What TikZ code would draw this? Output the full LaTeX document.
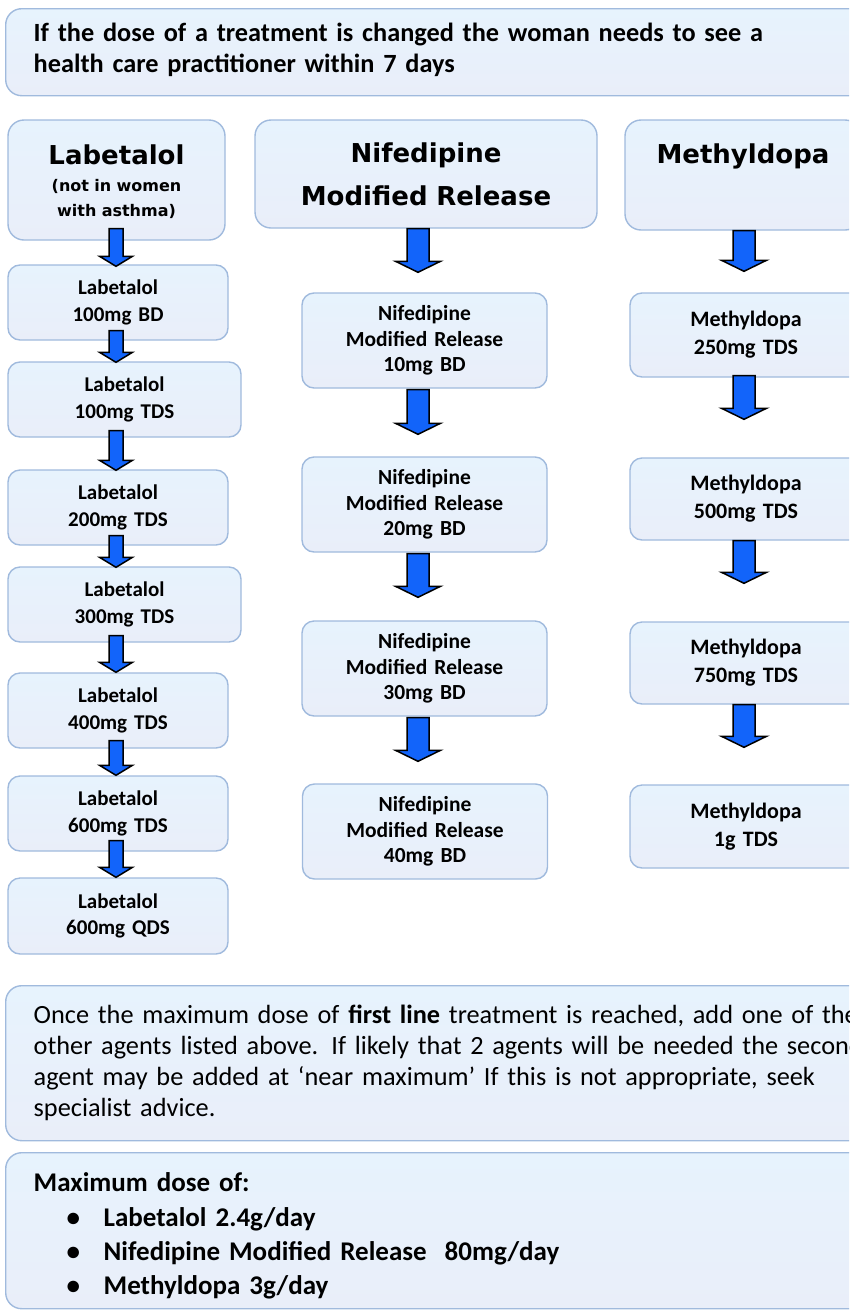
\documentclass[tikz,border=0pt]{standalone}
\usepackage{fontspec}
\setmainfont{Carlito}
\newfontfamily\headfont{DejaVu Sans}
\usetikzlibrary{calc}

\definecolor{boxtop}{RGB}{231,243,253}
\definecolor{boxbot}{RGB}{233,238,249}
\definecolor{boxline}{RGB}{160,186,221}
\definecolor{arrowblue}{RGB}{18,100,250}

\tikzset{
  panel/.style={draw=boxline, line width=1.4pt, top color=boxtop, bottom color=boxbot, inner sep=0pt},
  notebox/.style={panel, rounded corners=16pt, anchor=north west, align=left, text width=1000pt, inner xsep=28pt},
  headbox/.style={panel, rounded corners=16pt, align=center, text width=200pt, font=\headfont\bfseries\fontsize{26}{43}\selectfont},
  dosebox/.style={panel, rounded corners=12pt, align=center, text width=200pt, font=\bfseries\fontsize{21}{26.5}\selectfont},
  arrowpaint/.style={fill=arrowblue, draw=black, line width=1.5pt, line join=miter},
  smallarrow/.code={\def\shafthw{7pt}\def\headhw{16.5pt}\def\headlen{10pt}},
  bigarrow/.code={\def\shafthw{11pt}\def\headhw{22.5pt}\def\headlen{11pt}},
}

% block arrow: style, axis, from, to, start shift, end shift
\newcommand{\flowarrow}[6]{%
  \filldraw[arrowpaint,#1] let \p1=(#2), \p2=($(#3.south)+(0,#5)$), \p3=($(#4.north)+(0,#6)$) in
    ({\x1-\shafthw},\y2) -- ({\x1+\shafthw},\y2) -- ({\x1+\shafthw},{\y3+\headlen})
    -- ({\x1+\headhw},{\y3+\headlen}) -- (\x1,\y3) -- ({\x1-\headhw},{\y3+\headlen})
    -- ({\x1-\shafthw},{\y3+\headlen}) -- cycle;
}

\begin{document}
\begin{tikzpicture}[x=1pt, y=-1pt]
  \useasboundingbox (0,0) rectangle (849,1312);
  \clip (0,0) rectangle (849,1312);

  % Note
  \node[notebox, minimum height=87pt, font=\bfseries\fontsize{26.3}{31}\selectfont] (note) at (5,8)
    {If the dose of a treatment is changed the woman needs to see a\\health care practitioner within 7 days\rule[-9pt]{0pt}{9pt}};

  % Column headers
  \node[headbox, minimum width=217pt, minimum height=120pt, font=\headfont\bfseries\fontsize{16}{25}\selectfont] (lab) at (116.5,180)
    {\rule{0pt}{23pt}{\fontsize{26}{28}\selectfont Labetalol}\\[2pt](not in women\\with asthma)};
  \node[headbox, text width=320pt, minimum width=342pt, minimum height=108pt] (nif) at (426,174)
    {Nifedipine\\Modified Release};
  \node[headbox, minimum width=236pt, minimum height=110pt] (met) at (743,175)
    {Methyldopa\\\mbox{}};

  % Axes of the arrows
  \coordinate (labaxis) at (116,0);
  \coordinate (nifaxis) at (418,0);
  \coordinate (metaxis) at (744,0);

  % Labetalol
  \node[dosebox, minimum width=220pt, minimum height=75pt] (l1) at (118,302.5) {Labetalol\\100mg BD};
  \node[dosebox, minimum width=233pt, minimum height=75pt] (l2) at (124.5,399.5) {Labetalol\\100mg TDS};
  \node[dosebox, minimum width=220pt, minimum height=75pt] (l3) at (118,507.5) {Labetalol\\200mg TDS};
  \node[dosebox, minimum width=233pt, minimum height=75pt] (l4) at (124.5,604.5) {Labetalol\\300mg TDS};
  \node[dosebox, minimum width=220pt, minimum height=75pt] (l5) at (118,710.5) {Labetalol\\400mg TDS};
  \node[dosebox, minimum width=220pt, minimum height=75pt] (l6) at (118,813.5) {Labetalol\\600mg TDS};
  \node[dosebox, minimum width=220pt, minimum height=76pt] (l7) at (118,916) {Labetalol\\600mg QDS};

  % Nifedipine
  \node[dosebox, minimum width=245pt, minimum height=95pt, font=\bfseries\fontsize{21.5}{25.5}\selectfont] (n1) at (424.5,340.5) {Nifedipine\\Modified Release\\10mg BD};
  \node[dosebox, minimum width=245pt, minimum height=95pt, font=\bfseries\fontsize{21.5}{25.5}\selectfont] (n2) at (424.5,504.5) {Nifedipine\\Modified Release\\20mg BD};
  \node[dosebox, minimum width=245pt, minimum height=95pt, font=\bfseries\fontsize{21.5}{25.5}\selectfont] (n3) at (424.5,668.5) {Nifedipine\\Modified Release\\30mg BD};
  \node[dosebox, minimum width=245pt, minimum height=95pt, font=\bfseries\fontsize{21.5}{25.5}\selectfont] (n4) at (425,831.5) {Nifedipine\\Modified Release\\40mg BD};

  % Methyldopa
  \node[dosebox, minimum width=232pt, minimum height=84pt, font=\bfseries\fontsize{22}{28}\selectfont] (m1) at (746,335) {Methyldopa\\250mg TDS};
  \node[dosebox, minimum width=232pt, minimum height=82pt, font=\bfseries\fontsize{22}{28}\selectfont] (m2) at (746,499) {Methyldopa\\500mg TDS};
  \node[dosebox, minimum width=232pt, minimum height=82pt, font=\bfseries\fontsize{22}{28}\selectfont] (m3) at (746,663) {Methyldopa\\750mg TDS};
  \node[dosebox, minimum width=232pt, minimum height=83pt, font=\bfseries\fontsize{22}{28}\selectfont] (m4) at (746,826.5) {Methyldopa\\1g TDS};

  % Arrows
  \flowarrow{smallarrow}{labaxis}{lab}{l1}{-12}{2}
  \flowarrow{smallarrow}{labaxis}{l1}{l2}{-10}{1}
  \flowarrow{smallarrow}{labaxis}{l2}{l3}{-7}{1}
  \flowarrow{smallarrow}{labaxis}{l3}{l4}{-10}{1}
  \flowarrow{smallarrow}{labaxis}{l4}{l5}{-7}{0}
  \flowarrow{smallarrow}{labaxis}{l5}{l6}{-8}{0}
  \flowarrow{smallarrow}{labaxis}{l6}{l7}{-11}{0}

  \flowarrow{bigarrow}{nifaxis}{nif}{n1}{0}{-20}
  \flowarrow{bigarrow}{nifaxis}{n1}{n2}{1}{-22}
  \flowarrow{bigarrow}{nifaxis}{n2}{n3}{1}{-23}
  \flowarrow{bigarrow}{nifaxis}{n3}{n4}{1}{-22}

  \flowarrow{bigarrow}{metaxis}{met}{m1}{0}{-21}
  \flowarrow{bigarrow}{metaxis}{m1}{m2}{-2}{-38}
  \flowarrow{bigarrow}{metaxis}{m2}{m3}{0}{-38}
  \flowarrow{bigarrow}{metaxis}{m3}{m4}{0}{-37}

  % Advice
  \node[notebox, minimum height=155pt, font=\fontsize{26.3}{31}\selectfont] (advice) at (5,985)
    {Once the maximum dose of \textbf{first line} treatment is reached, add one of the\\
     other agents listed above. If likely that 2 agents will be needed the second\\
     agent may be added at ‘near maximum’ If this is not appropriate, seek\\
     specialist advice.};

  % Maximum doses
  \node[notebox, minimum height=156pt, font=\bfseries\fontsize{27}{34}\selectfont] (maxdose) at (5,1152)
    {\rule{0pt}{30pt}Maximum dose of:\\[1pt]
     \hspace*{33pt}\makebox[37pt][l]{\textbullet}Labetalol 2.4g/day\\
     \hspace*{33pt}\makebox[37pt][l]{\textbullet}Nifedipine Modified Release~ 80mg/day\\
     \hspace*{33pt}\makebox[37pt][l]{\textbullet}Methyldopa 3g/day};
\end{tikzpicture}
\end{document}
